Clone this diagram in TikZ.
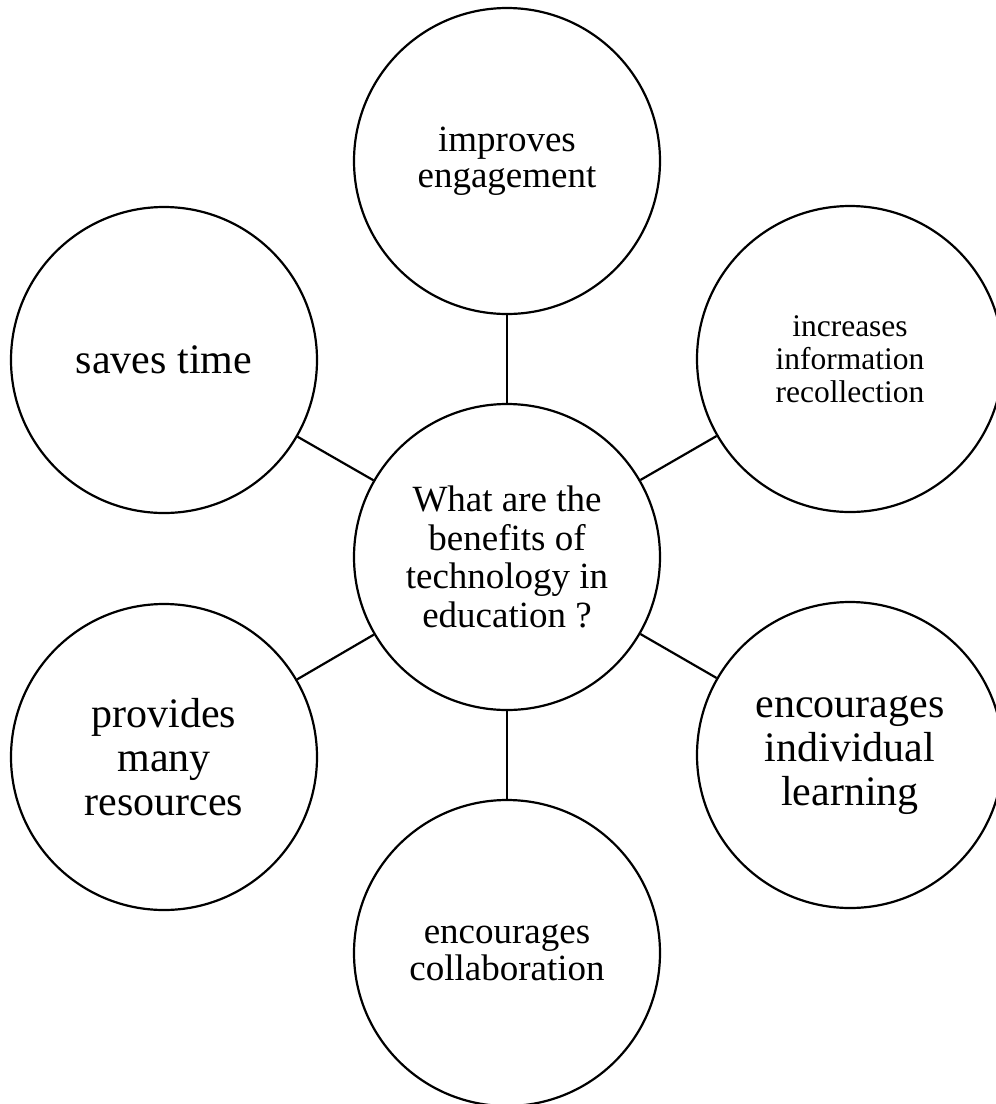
\documentclass[tikz,border=0pt]{standalone}
\usepackage{fontspec}
\setmainfont{Liberation Serif}
\begin{document}
\begin{tikzpicture}[x=1pt,y=-1pt,
  bubble/.style={circle,draw=black,line width=2.2pt,minimum size=306pt,inner sep=0pt,align=center,text=black},
  link/.style={draw=black,line width=2.2pt},
  fa/.style={font=\fontsize{42}{44}\selectfont},
  fb/.style={font=\fontsize{37}{38}\selectfont},
  fc/.style={font=\fontsize{31.5}{33}\selectfont}]
\useasboundingbox (0,0) rectangle (996,1104);
\fill[white] (0,0) rectangle (996,1104);
\node[bubble,fb,font=\fontsize{37}{38.5}\selectfont] (c) at (507,557) {What are the\\benefits of\\technology in\\education ?};
\node[bubble,fb,font=\fontsize{37}{36.5}\selectfont] (t) at (507,161) {improves\\engagement};
\node[bubble,fc] (tr) at (850,359) {increases\\information\\recollection};
\node[bubble,fa] (br) at (850,755) {encourages\\individual\\learning};
\node[bubble,fb,font=\fontsize{37}{37}\selectfont] (b) at (507,953) {encourages\\collaboration};
\node[bubble,fa] (bl) at (164,757) {provides\\many\\resources};
\node[bubble,fa] (tl) at (164,360) {saves time};
\foreach \n in {t,tr,br,b,bl,tl} \draw[link] (c) -- (\n);
\end{tikzpicture}
\end{document}
